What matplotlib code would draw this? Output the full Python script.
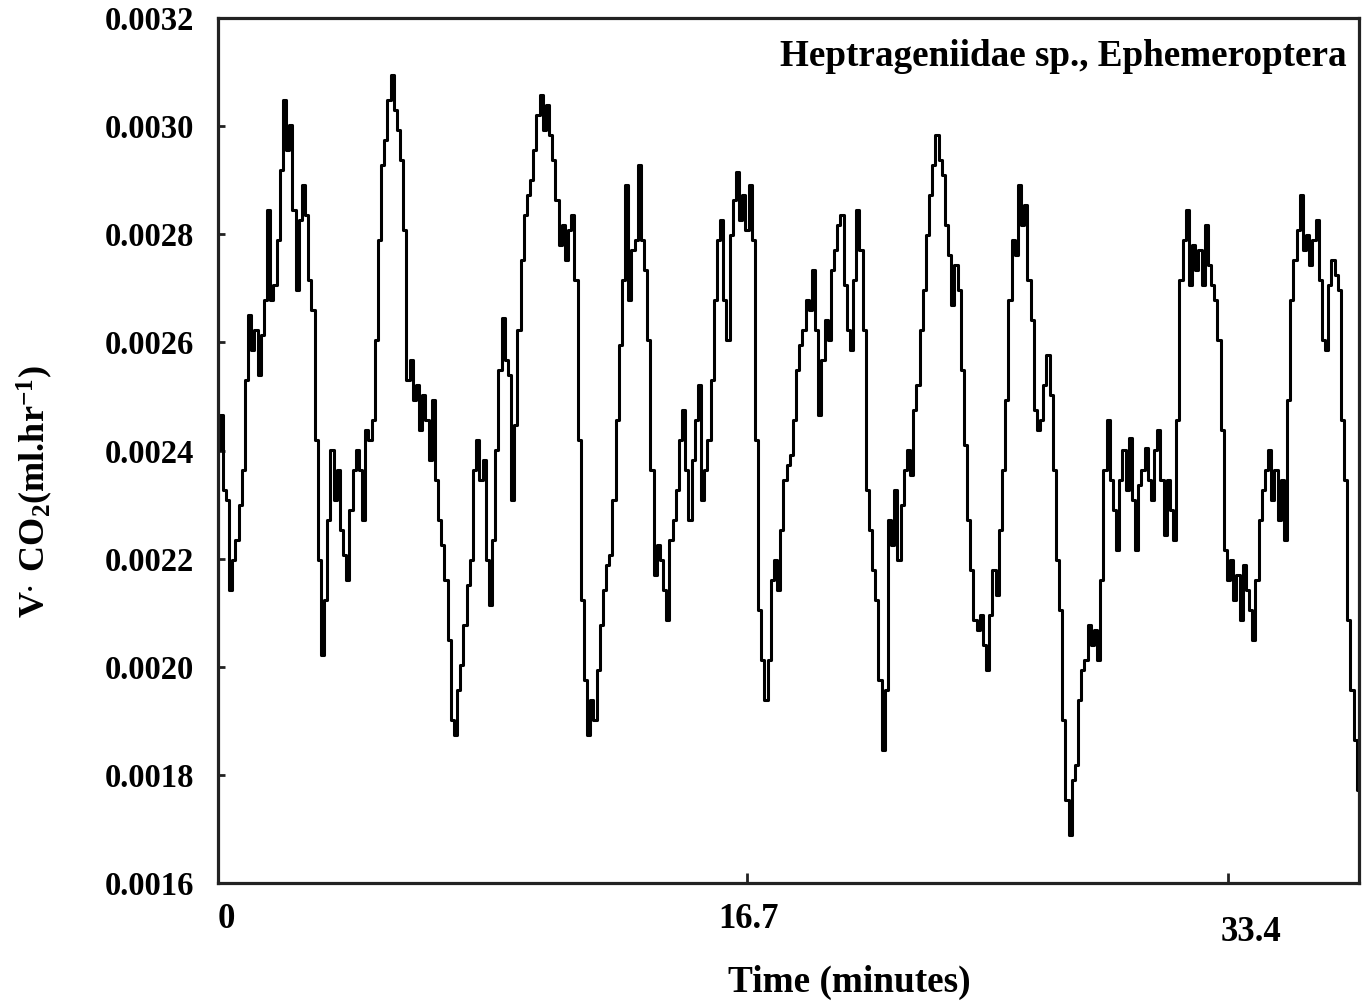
import numpy as np
import matplotlib
matplotlib.use("Agg")
import matplotlib.pyplot as plt
from matplotlib.transforms import blended_transform_factory, offset_copy

# CO2 production trace (ml/hr), one reading per sample
vco2 = [
    0.002401, 0.002466, 0.002327, 0.002308, 0.002142, 0.002197, 0.002234, 0.002299, 0.002364, 0.002530,
    0.002651, 0.002586, 0.002623, 0.002540, 0.002614, 0.002678, 0.002845, 0.002678, 0.002706, 0.002789,
    0.002919, 0.003048, 0.002956, 0.003002, 0.002845, 0.002697, 0.002826, 0.002891, 0.002836, 0.002715,
    0.002660, 0.002419, 0.002197, 0.002022, 0.002123, 0.002271, 0.002401, 0.002308, 0.002364, 0.002253,
    0.002207, 0.002160, 0.002290, 0.002364, 0.002401, 0.002364, 0.002271, 0.002438, 0.002419, 0.002456,
    0.002604, 0.002789, 0.002928, 0.002974, 0.003048, 0.003095, 0.003030, 0.002993, 0.002937, 0.002808,
    0.002530, 0.002567, 0.002493, 0.002521, 0.002438, 0.002503, 0.002456, 0.002382, 0.002493, 0.002345,
    0.002271, 0.002225, 0.002160, 0.002049, 0.001901, 0.001874, 0.001957, 0.002003, 0.002077, 0.002151,
    0.002197, 0.002364, 0.002419, 0.002345, 0.002382, 0.002197, 0.002114, 0.002234, 0.002401, 0.002549,
    0.002645, 0.002567, 0.002540, 0.002308, 0.002447, 0.002623, 0.002752, 0.002836, 0.002873, 0.002900,
    0.002956, 0.003021, 0.003058, 0.002993, 0.003039, 0.002984, 0.002937, 0.002863, 0.002780, 0.002817,
    0.002752, 0.002808, 0.002836, 0.002715, 0.002419, 0.002123, 0.001975, 0.001874, 0.001938, 0.001901,
    0.001994, 0.002077, 0.002142, 0.002188, 0.002207, 0.002308, 0.002456, 0.002595, 0.002715, 0.002891,
    0.002678, 0.002771, 0.002789, 0.002928, 0.002789, 0.002734, 0.002604, 0.002364, 0.002170, 0.002225,
    0.002197, 0.002142, 0.002086, 0.002234, 0.002271, 0.002327, 0.002419, 0.002475, 0.002364, 0.002271,
    0.002382, 0.002456, 0.002521, 0.002308, 0.002364, 0.002419, 0.002530, 0.002678, 0.002789, 0.002826,
    0.002678, 0.002604, 0.002798, 0.002863, 0.002915, 0.002826, 0.002873, 0.002808, 0.002891, 0.002789,
    0.002419, 0.002105, 0.002012, 0.001938, 0.002012, 0.002160, 0.002197, 0.002142, 0.002253, 0.002345,
    0.002373, 0.002392, 0.002456, 0.002549, 0.002595, 0.002623, 0.002678, 0.002660, 0.002734, 0.002623,
    0.002466, 0.002567, 0.002641, 0.002604, 0.002734, 0.002771, 0.002817, 0.002836, 0.002706, 0.002623,
    0.002586, 0.002715, 0.002845, 0.002771, 0.002623, 0.002327, 0.002253, 0.002179, 0.002123, 0.001975,
    0.001846, 0.001957, 0.002271, 0.002225, 0.002327, 0.002197, 0.002299, 0.002364, 0.002401, 0.002355,
    0.002475, 0.002521, 0.002623, 0.002697, 0.002798, 0.002873, 0.002928, 0.002984, 0.002937, 0.002910,
    0.002817, 0.002762, 0.002669, 0.002743, 0.002697, 0.002549, 0.002410, 0.002271, 0.002179, 0.002086,
    0.002068, 0.002096, 0.002040, 0.001994, 0.002096, 0.002179, 0.002133, 0.002253, 0.002364, 0.002493,
    0.002678, 0.002789, 0.002762, 0.002891, 0.002817, 0.002854, 0.002715, 0.002641, 0.002475, 0.002438,
    0.002456, 0.002521, 0.002577, 0.002503, 0.002364, 0.002197, 0.002105, 0.001901, 0.001753, 0.001689,
    0.001790, 0.001818, 0.001938, 0.001994, 0.002012, 0.002077, 0.002040, 0.002068, 0.002012, 0.002160,
    0.002364, 0.002456, 0.002345, 0.002290, 0.002216, 0.002345, 0.002401, 0.002327, 0.002423, 0.002308,
    0.002216, 0.002336, 0.002364, 0.002405, 0.002345, 0.002308, 0.002401, 0.002438, 0.002345, 0.002244,
    0.002345, 0.002290, 0.002234, 0.002456, 0.002715, 0.002789, 0.002845, 0.002706, 0.002780, 0.002734,
    0.002771, 0.002706, 0.002817, 0.002743, 0.002706, 0.002678, 0.002604, 0.002438, 0.002216, 0.002160,
    0.002197, 0.002123, 0.002170, 0.002086, 0.002188, 0.002142, 0.002105, 0.002049, 0.002160, 0.002271,
    0.002327, 0.002364, 0.002401, 0.002308, 0.002364, 0.002271, 0.002345, 0.002234, 0.002493, 0.002678,
    0.002752, 0.002808, 0.002873, 0.002771, 0.002798, 0.002743, 0.002789, 0.002826, 0.002715, 0.002604,
    0.002586, 0.002706, 0.002752, 0.002725, 0.002697, 0.002456, 0.002345, 0.002086, 0.001957, 0.001864,
    0.001772,
]

# sample numbers at which the time labels sit, and their texts
xtick_samples = [0, 167, 319]
xtick_labels = ["0", "16.7", "33.4"]

ytick_values = [0.0016, 0.0018, 0.0020, 0.0022, 0.0024, 0.0026, 0.0028, 0.0030, 0.0032]

title_text = "Heptrageniidae sp., Ephemeroptera"
xlabel_text = "Time (minutes)"
ylabel_text = r"V$^{.}$ CO$_{2}$(ml.hr$^{-1}$)"

plt.rcParams["font.family"] = ["Liberation Serif", "DejaVu Serif"]
plt.rcParams["font.weight"] = "bold"
plt.rcParams["mathtext.fontset"] = "custom"
plt.rcParams["mathtext.rm"] = "Liberation Serif:bold"
plt.rcParams["mathtext.it"] = "Liberation Serif:bold"
plt.rcParams["mathtext.bf"] = "Liberation Serif:bold"

DPI = 100
fig = plt.figure(figsize=(13.69, 10.05), dpi=DPI)
ax = fig.add_axes([218 / 1369, 1 - 883 / 1005, (1359 - 218) / 1369, (883 - 18) / 1005])

samples = np.arange(len(vco2))
ax.plot(samples, vco2, color="black", linewidth=2.2, drawstyle="steps-mid")

ax.set_xlim(0, 360.2)
ax.set_ylim(0.0016, 0.0032)

axis_color = "#222222"
for sp in ax.spines.values():
    sp.set_linewidth(2.3)
    sp.set_color(axis_color)

ax.set_yticks(ytick_values)
ax.set_yticklabels([f"{v:.4f}" for v in ytick_values])
ax.tick_params(axis="y", direction="in", length=5, width=2, color=axis_color,
               labelsize=23.5, pad=17)

ax.set_xticks(xtick_samples)
ax.set_xticklabels([])
ax.tick_params(axis="x", direction="in", length=7, width=2, color=axis_color)

# time labels, each nudged as laid out on the page
label_shift_px = [(8, -36), (1, -36), (23, -49)]
base = blended_transform_factory(ax.transData, ax.transAxes)
for pos, lab, (dx, dy) in zip(xtick_samples, xtick_labels, label_shift_px):
    ax.text(pos, 0, lab, transform=offset_copy(base, fig=fig, x=dx, y=dy, units="dots"),
            ha="center", va="center", fontsize=25, fontweight="bold")

ax.text(0.9895, 0.955, title_text, transform=ax.transAxes, ha="right", va="center",
        fontsize=26.7, fontweight="bold")

fig.text(849 / 1369, 1 - 982 / 1005, xlabel_text, ha="center", va="center",
         fontsize=26.8, fontweight="bold")
fig.text(35 / 1369, 1 - 492 / 1005, ylabel_text, ha="center", va="center",
         rotation=90, fontsize=26, fontweight="bold")

fig.savefig("out.png", dpi=DPI, facecolor="white")
